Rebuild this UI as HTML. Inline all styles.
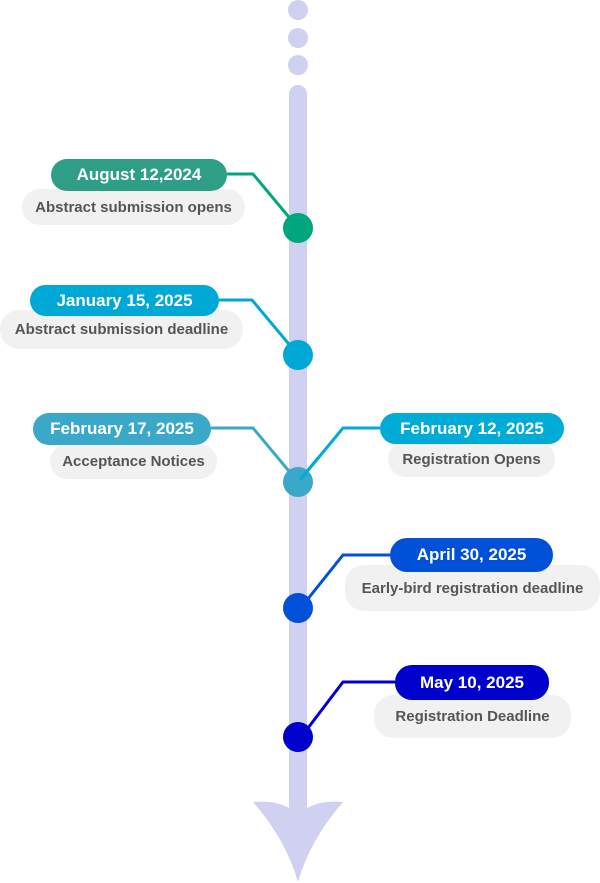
<!DOCTYPE html>
<html><head><style>
body{margin:0;width:600px;height:883px;background:#fff;position:relative;overflow:hidden;font-family:"Liberation Sans",sans-serif;}
.p{position:absolute;border-radius:17px;color:#fff;font-weight:bold;font-size:17px;display:flex;align-items:center;justify-content:center;z-index:2}
.g{position:absolute;border-radius:19px;background:#f1f1f1;color:#555;font-weight:bold;font-size:15px;display:flex;align-items:center;justify-content:center;z-index:1}
svg{position:absolute;left:0;top:0}
</style></head><body>
<svg width="600" height="883">
<circle cx="298" cy="10" r="10" fill="#d0d0f0"/>
<circle cx="298" cy="38" r="10" fill="#d0d0f0"/>
<circle cx="298" cy="65" r="10" fill="#d0d0f0"/>
<rect x="289" y="85" width="18" height="730" rx="9" fill="#d0d0f0"/>
<path d="M253,802 Q275,800 289,808 L307,808 Q321,800 343,802 Q310,840 298,882 Q286,840 253,802Z" fill="#d0d0f0"/>
<g fill="none" stroke-width="3">
<polyline points="227,174 253,174 298,228" stroke="#00a67e"/>
<polyline points="219,300 252,300 298,355" stroke="#00a8d6"/>
<polyline points="211,428 253,428 298,482" stroke="#3aa8c8"/>
<polyline points="380,428 343,428 300,480" stroke="#00acd6"/>
<polyline points="390,555 343,555 307,600" stroke="#0050d8"/>
<polyline points="395,682 343,682 308,728" stroke="#0000cc"/>
</g>
<circle cx="298" cy="228" r="15" fill="#00a67e"/>
<circle cx="298" cy="355" r="15" fill="#00a8d6"/>
<circle cx="298" cy="482" r="15" fill="#3aa8c8"/>
<line x1="300" y1="480" x2="318" y2="458" stroke="#00acd6" stroke-width="3"/>
<circle cx="298" cy="608" r="15" fill="#0050d8"/>
<circle cx="298" cy="737" r="15" fill="#0000cc"/>
</svg>
<div class="p" style="left:51px;top:159px;width:176px;height:32px;background:#2e9e86">August 12,2024</div>
<div class="g" style="left:22px;top:189px;width:223px;height:36px">Abstract submission opens</div>
<div class="p" style="left:30px;top:285px;width:189px;height:31px;background:#00a8d6">January 15, 2025</div>
<div class="g" style="left:0px;top:310px;width:243px;height:39px">Abstract submission deadline</div>
<div class="p" style="left:33px;top:413px;width:178px;height:32px;background:#3aa8c8">February 17, 2025</div>
<div class="g" style="left:50px;top:444px;width:167px;height:35px">Acceptance Notices</div>
<div class="p" style="left:380px;top:413px;width:184px;height:31px;background:#00acd6">February 12, 2025</div>
<div class="g" style="left:388px;top:441px;width:167px;height:36px">Registration Opens</div>
<div class="p" style="left:390px;top:538px;width:163px;height:34px;background:#0050d8">April 30, 2025</div>
<div class="g" style="left:345px;top:565px;width:255px;height:46px">Early-bird registration deadline</div>
<div class="p" style="left:395px;top:665px;width:154px;height:35px;background:#0000cc">May 10, 2025</div>
<div class="g" style="left:374px;top:695px;width:197px;height:43px">Registration Deadline</div>
</body></html>
